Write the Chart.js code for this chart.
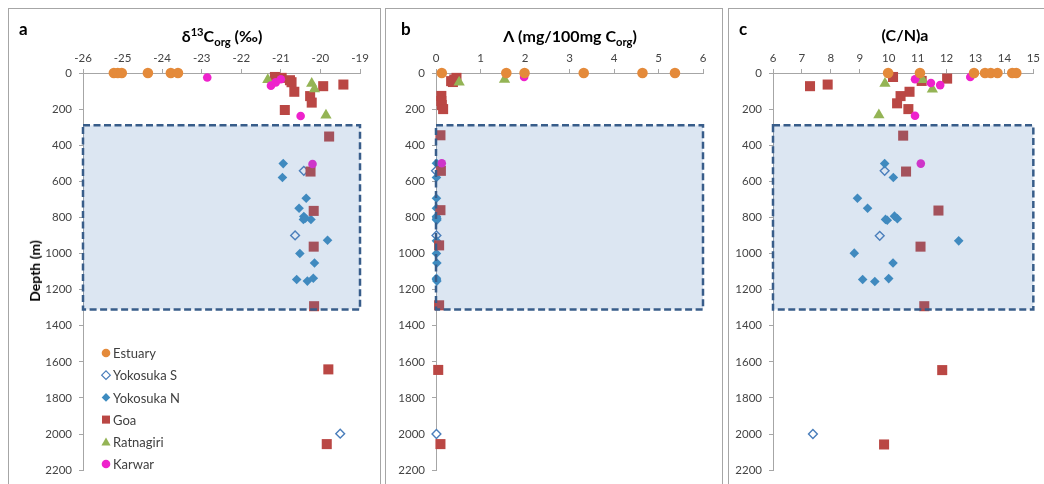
<!DOCTYPE html>
<html>
<head>
<meta charset="utf-8">
<script src="https://cdn.jsdelivr.net/npm/chart.js@4.4.1/dist/chart.umd.min.js"></script>
<style>
  html, body { margin:0; padding:0; background:#fff; }
  body { width:1044px; height:484px; overflow:hidden; position:relative; font-family:Lato, "Open Sans", sans-serif; color:#000; }
  .panel { position:absolute; top:8px; height:520px; border:1px solid #a6a6a6; box-sizing:border-box; }
  canvas { position:absolute; }
  .lbl { position:absolute; font-weight:bold; white-space:nowrap; line-height:1; }
  .title { position:absolute; font-weight:bold; font-size:16px; line-height:16px; text-align:center; white-space:nowrap; width:260px; }
  .title sup, .title sub { font-size:70%; line-height:0; }
  .ylab { position:absolute; font-weight:bold; font-size:14px; line-height:14px; white-space:nowrap; transform:translate(-50%,-50%) rotate(-90deg); }
</style>
</head>
<body>
<div class="panel" style="left:8px;width:373px;"></div>
<div class="panel" style="left:385px;width:338px;"></div>
<div class="panel" style="left:728px;width:340px;"></div>

<canvas id="ca" width="372" height="475" style="left:8px;top:9px;"></canvas>
<canvas id="cb" width="337" height="475" style="left:385px;top:9px;"></canvas>
<canvas id="cc" width="316" height="475" style="left:728px;top:9px;"></canvas>

<div class="lbl" style="left:19px;top:20px;font-size:17px;">a</div>
<div class="lbl" style="left:401px;top:20px;font-size:17px;">b</div>
<div class="lbl" style="left:739px;top:20px;font-size:17px;">c</div>

<div class="title" style="left:92px;top:28px;">&delta;<sup>13</sup>C<sub>org</sub> (&permil;)</div>
<div class="title" style="left:440px;top:28px;">&Lambda; (mg/100mg C<sub>org</sub>)</div>
<div class="title" style="left:775px;top:27px;">(C/N)a</div>

<div class="ylab" style="left:35px;top:271px;">Depth (m)</div>

<script>
// ---------- axis ticks ----------
const depthTicks  = [0, 200, 400, 600, 800, 1000, 1200, 1400, 1600, 1800, 2000, 2200];
const d13cTicks   = [-26, -25, -24, -23, -22, -21, -20, -19];
const lambdaTicks = [0, 1, 2, 3, 4, 5, 6];
const cnTicks     = [6, 7, 8, 9, 10, 11, 12, 13, 14, 15];
const boxDepths   = [290, 1310];   // highlighted depth interval (m)

const seriesNames = ['Estuary', 'Yokosuka S', 'Yokosuka N', 'Goa', 'Ratnagiri', 'Karwar'];

// ---------- panel a : d13C org (permil) ----------
const aEstuaryX   = [-25.22, -25.12, -25.02, -24.36, -23.78, -23.6];
const aEstuaryY   = [0, 0, 0, 0, 0, 0];
const aYokoSX     = [-20.42, -20.64, -19.5];
const aYokoSY     = [542, 900, 1998];
const aYokoNX     = [-20.94, -20.96, -20.36, -20.54, -20.42, -20.43, -20.24, -20.38, -19.82, -20.52, -20.15, -20.6, -20.33, -20.18];
const aYokoNY     = [502, 579, 694, 749, 795, 812, 812, 805, 927, 1000, 1053, 1144, 1153, 1137];
const aGoaX       = [-21.15, -20.98, -20.77, -20.73, -20.66, -20.26, -20.22, -20.9, -19.93, -19.42, -19.78, -20.25, -20.17, -20.17, -20.16, -19.8, -19.84];
const aGoaY       = [22, 27, 40, 51, 104, 128, 164, 205, 73, 64, 352, 546, 764, 962, 1292, 1642, 2056];
const aRatnaX     = [-21.33, -20.22, -20.15, -19.86];
const aRatnaY     = [37, 58, 88, 234];
const aKarwarX    = [-22.86, -21.25, -21.13, -21.0, -20.5, -20.2];
const aKarwarY    = [25, 70, 52, 35, 238, 504];

// ---------- panel b : Lambda (mg/100mg Corg) ----------
const bEstuaryX   = [0.13, 1.58, 1.99, 3.32, 4.64, 5.37];
const bEstuaryY   = [0, 0, 0, 0, 0, 0];
const bYokoSX     = [0.0, 0.01, 0.01];
const bYokoSY     = [542, 900, 2000];
const bYokoNX     = [0.01, 0.01, 0.01, 0.01, 0.01, 0.02, 0.01, 0.02, 0.01, 0.01, 0.02, 0.01, 0.02, 0.01];
const bYokoNY     = [500, 579, 694, 749, 795, 805, 812, 815, 930, 1000, 1053, 1144, 1153, 1137];
const bGoaX       = [0.46, 0.41, 0.34, 0.38, 0.12, 0.12, 0.13, 0.16, 0.1, 0.11, 0.1, 0.07, 0.07, 0.05, 0.1];
const bGoaY       = [27, 36, 45, 50, 127, 155, 178, 200, 345, 542, 760, 955, 1287, 1645, 2056];
const bRatnaX     = [1.54, 0.52];
const bRatnaY     = [36, 51];
const bKarwarX    = [1.98, 0.13];
const bKarwarY    = [22, 500];

// ---------- panel c : (C/N)a ----------
const cEstuaryX   = [9.98, 11.08, 12.95, 13.33, 13.53, 13.76, 14.27, 14.41];
const cEstuaryY   = [0, 0, 0, 0, 0, 0, 0, 0];
const cYokoSX     = [9.86, 9.69, 7.38];
const cYokoSY     = [542, 902, 2000];
const cYokoNX     = [9.86, 10.16, 8.92, 9.27, 9.89, 9.95, 10.2, 10.3, 12.42, 8.81, 10.15, 9.1, 9.52, 10.0];
const cYokoNY     = [502, 579, 694, 749, 811, 816, 793, 807, 930, 998, 1053, 1144, 1155, 1139];
const cGoaX       = [7.28, 7.89, 10.15, 11.14, 12.02, 10.72, 10.41, 10.29, 10.68, 10.5, 10.6, 11.72, 11.1, 11.23, 11.85, 9.84];
const cGoaY       = [73, 64, 22, 44, 31, 104, 128, 168, 200, 347, 546, 762, 962, 1292, 1646, 2058];
const cRatnaX     = [11.17, 9.87, 11.51, 9.66];
const cRatnaY     = [37, 58, 90, 232];
const cKarwarX    = [12.82, 10.91, 11.46, 11.78, 10.91, 11.11];
const cKarwarY    = [22, 35, 55, 67, 237, 502];

// ---------- styles ----------
const styles = {
  'Estuary':    { pointStyle:'circle',   radius:5.3, bg:'#E48A3A', bc:'#E48A3A', bw:0,   order:1, lr:4.3 },
  'Yokosuka S': { pointStyle:'rectRot',  radius:4.4, bg:'#ffffff', bc:'#4A7EBB', bw:1.4, order:6, lr:4.3 },
  'Yokosuka N': { pointStyle:'rectRot',  radius:4.8, bg:'#3D8CC0', bc:'#3D8CC0', bw:0,   order:5, lr:4.3 },
  'Goa':        { pointStyle:'rect',     radius:7.1, bg:'#BA4744', bc:'#BA4744', bw:0,   order:4, lr:5.7 },
  'Ratnagiri':  { pointStyle:'triangle', radius:6.5, bg:'#94B455', bc:'#94B455', bw:0,   order:3, lr:5.3 },
  'Karwar':     { pointStyle:'circle',   radius:4.3, bg:'#EE22CC', bc:'#EE22CC', bw:0,   order:2, lr:4.3 }
};

function mk(name, xs, ys) {
  const s = styles[name];
  return {
    label: name,
    data: xs.map((x, i) => ({ x: x, y: ys[i] })),
    pointStyle: s.pointStyle,
    pointRadius: s.radius,
    pointHoverRadius: s.radius,
    pointBackgroundColor: s.bg,
    pointBorderColor: s.bc,
    pointBorderWidth: s.bw,
    showLine: false,
    clip: false,
    order: s.order
  };
}

const FONT = 'Lato, "Open Sans", sans-serif';
const TICK_COLOR = '#444444';
const AXIS_COLOR = '#a6a6a6';

const boxPlugin = {
  id: 'depthBox',
  afterDatasetsDraw(chart) {
    const { ctx, scales } = chart;
    const xs = scales.x, ys = scales.y;
    const l = xs.getPixelForValue(xs.min), r = xs.getPixelForValue(xs.max);
    const t = ys.getPixelForValue(boxDepths[0]), b = ys.getPixelForValue(boxDepths[1]);
    ctx.save();
    ctx.fillStyle = 'rgba(79,129,189,0.2)';
    ctx.fillRect(l, t, r - l, b - t);
    ctx.setLineDash([7, 3.5]);
    ctx.lineWidth = 2.5;
    ctx.strokeStyle = '#385D8A';
    ctx.strokeRect(l, t, r - l, b - t);
    ctx.restore();
  }
};

function drawMarker(ctx, style, r, x, y) {
  ctx.beginPath();
  if (style.pointStyle === 'circle') {
    ctx.arc(x, y, r, 0, Math.PI * 2);
  } else if (style.pointStyle === 'rect') {
    const h = r * Math.SQRT1_2;
    ctx.rect(x - h, y - h, 2 * h, 2 * h);
  } else if (style.pointStyle === 'rectRot') {
    ctx.moveTo(x - r, y); ctx.lineTo(x, y - r); ctx.lineTo(x + r, y); ctx.lineTo(x, y + r); ctx.closePath();
  } else if (style.pointStyle === 'triangle') {
    ctx.moveTo(x, y - r);
    ctx.lineTo(x + r * Math.sin(2 * Math.PI / 3), y - r * Math.cos(2 * Math.PI / 3));
    ctx.lineTo(x + r * Math.sin(4 * Math.PI / 3), y - r * Math.cos(4 * Math.PI / 3));
    ctx.closePath();
  }
  ctx.fillStyle = style.bg;
  ctx.fill();
  if (style.bw > 0) { ctx.lineWidth = 1.2; ctx.strokeStyle = style.bc; ctx.stroke(); }
}

const legendPlugin = {
  id: 'insideLegend',
  afterDraw(chart) {
    const ctx = chart.ctx;
    ctx.save();
    ctx.font = '13px ' + FONT;
    ctx.textBaseline = 'middle';
    ctx.textAlign = 'left';
    seriesNames.forEach((name, i) => {
      const y = 344 + i * 22.2;
      const st = styles[name];
      drawMarker(ctx, st, st.lr, 98, y + (st.pointStyle === 'triangle' ? 1 : 0));
      ctx.fillStyle = '#404040';
      ctx.fillText(name, 105, y + 1);
    });
    ctx.restore();
  }
};

function makeChart(id, datasets, xTicks, plotLeft, padRight) {
  return new Chart(document.getElementById(id), {
    type: 'scatter',
    data: { datasets: datasets },
    options: {
      responsive: false,
      animation: false,
      events: [],
      layout: { padding: { left: 0, top: 40, right: padRight, bottom: 9 } },
      plugins: { legend: { display: false }, tooltip: { enabled: false } },
      scales: {
        x: {
          type: 'linear', position: 'top',
          min: xTicks[0], max: xTicks[xTicks.length - 1],
          afterBuildTicks: s => { s.ticks = xTicks.map(v => ({ value: v })); },
          afterFit: s => { s.height = 24; },
          grid: { drawOnChartArea: false, drawTicks: true, tickLength: 4, color: AXIS_COLOR, lineWidth: 1 },
          border: { display: true, color: AXIS_COLOR, width: 1 },
          ticks: { color: TICK_COLOR, font: { family: FONT, size: 11.5 }, padding: 4, maxRotation: 0, autoSkip: false,
                   callback: v => String(v) }
        },
        y: {
          type: 'linear', position: 'left', reverse: true,
          min: depthTicks[0], max: depthTicks[depthTicks.length - 1],
          afterBuildTicks: s => { s.ticks = depthTicks.map(v => ({ value: v })); },
          afterFit: s => { s.width = plotLeft; },
          grid: { drawOnChartArea: false, drawTicks: true, tickLength: 4, color: AXIS_COLOR, lineWidth: 1 },
          border: { display: true, color: AXIS_COLOR, width: 1 },
          ticks: { color: TICK_COLOR, font: { family: FONT, size: 11.5 }, padding: 7, autoSkip: false,
                   callback: v => String(v) }
        }
      }
    },
    plugins: id === 'ca' ? [boxPlugin, legendPlugin] : [boxPlugin]
  });
}

makeChart('ca', [
  mk('Estuary', aEstuaryX, aEstuaryY),
  mk('Yokosuka S', aYokoSX, aYokoSY),
  mk('Yokosuka N', aYokoNX, aYokoNY),
  mk('Goa', aGoaX, aGoaY),
  mk('Ratnagiri', aRatnaX, aRatnaY),
  mk('Karwar', aKarwarX, aKarwarY)
], d13cTicks, 75, 20);

makeChart('cb', [
  mk('Estuary', bEstuaryX, bEstuaryY),
  mk('Yokosuka S', bYokoSX, bYokoSY),
  mk('Yokosuka N', bYokoNX, bYokoNY),
  mk('Goa', bGoaX, bGoaY),
  mk('Ratnagiri', bRatnaX, bRatnaY),
  mk('Karwar', bKarwarX, bKarwarY)
], lambdaTicks, 51, 19);

makeChart('cc', [
  mk('Estuary', cEstuaryX, cEstuaryY),
  mk('Yokosuka S', cYokoSX, cYokoSY),
  mk('Yokosuka N', cYokoNX, cYokoNY),
  mk('Goa', cGoaX, cGoaY),
  mk('Ratnagiri', cRatnaX, cRatnaY),
  mk('Karwar', cKarwarX, cKarwarY)
], cnTicks, 45, 7);
</script>
</body>
</html>
